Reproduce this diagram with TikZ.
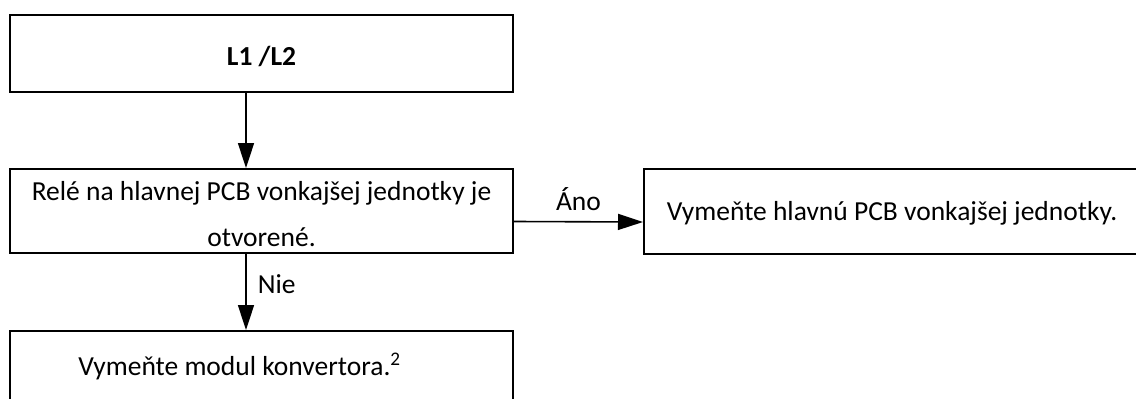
\documentclass[tikz,border=0pt]{standalone}
\usepackage{fontspec}
\setmainfont{Carlito}
\usetikzlibrary{arrows.meta}
\begin{document}
\begin{tikzpicture}[x=1pt,y=-1pt,
  box/.style={draw=black, line width=2pt, inner sep=0pt, font=\fontsize{27.5}{33}\selectfont},
  conn/.style={line width=1.6pt, -{Triangle[length=25pt,width=16pt]}},
  lbl/.style={font=\fontsize{27.5}{33}\selectfont, inner sep=0pt}]
\clip (0,0) rectangle (1136,399);
\node[box, minimum width=503pt, minimum height=77pt, text height=50pt, text depth=27pt] (top) at (261.5,53.5) {\textbf{L1 /L2}};
\node[box, minimum width=503pt, minimum height=84pt, text height=31pt, text depth=53pt] (mid) at (261.5,211)
  {\begin{tabular}[t]{@{}c@{}}Relé na hlavnej PCB vonkajšej jednotky je\\[13pt]otvorené.\end{tabular}};
\node[box, minimum width=496pt, minimum height=85pt, text height=51pt, text depth=34pt] (yes) at (892,211.5)
  {Vymeňte hlavnú PCB vonkajšej jednotky.};
\node[box, minimum width=503pt, minimum height=80pt, text height=44pt, text depth=36pt] (no) at (261.5,371)
  {Vymeňte modul konvertora.\textsuperscript{2}\hspace*{44pt}};
\draw[conn] ([xshift=-15.5pt]top.south) -- ([xshift=-15.5pt]mid.north);
\draw[conn] ([yshift=-10.5pt]mid.east) -- node[lbl, above=10pt] (lyes) {Áno} ([yshift=-10.5pt]yes.west);
\draw[conn] ([xshift=-15.5pt]mid.south) -- node[lbl, right=11pt, yshift=8pt] (lno) {Nie} ([xshift=-15.5pt]no.north);
\end{tikzpicture}
\end{document}
